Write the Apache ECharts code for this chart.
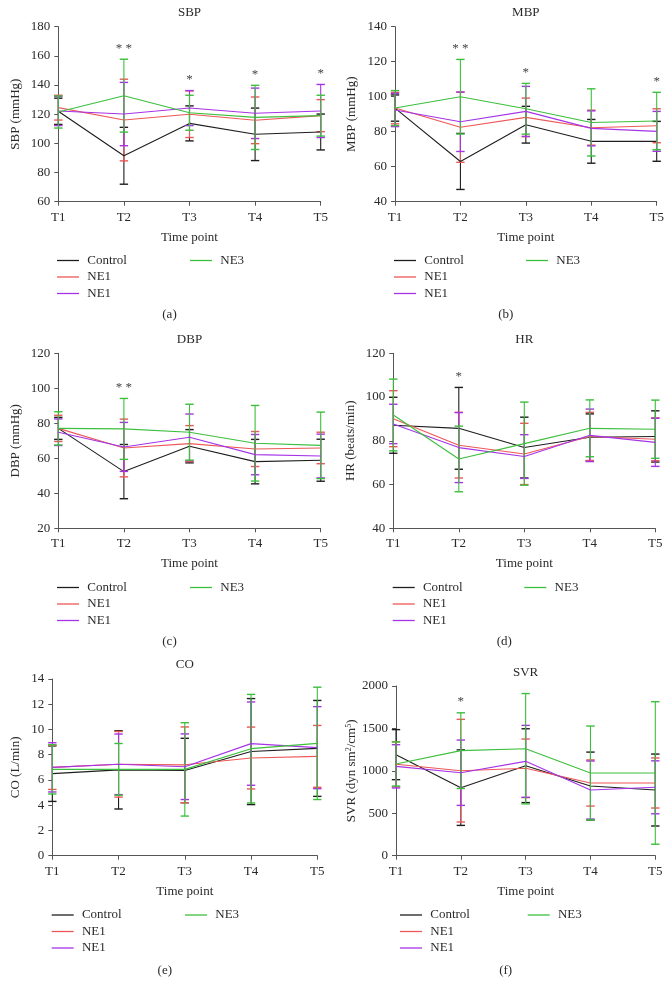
<!DOCTYPE html>
<html><head><meta charset="utf-8">
<script src="https://cdn.jsdelivr.net/npm/echarts@6/dist/echarts.min.js"></script>
<style>html,body{margin:0;padding:0;background:#fff}#c{width:672px;height:996px}</style>
</head><body><div id="c"></div>
<script>
// ---------- data ----------
const timePoints = ['T1', 'T2', 'T3', 'T4', 'T5'];
const groupNames = ['Control', 'NE1', 'NE1b', 'NE3'];
const groupLabels = ['Control', 'NE1', 'NE1', 'NE3'];

// SBP (mmHg)
const sbpControl = [122, 91.5, 113.7, 106.2, 107.8];
const sbpControlSD = [9, 19.5, 12, 18, 12.3];
const sbpNE1 = [124.5, 116, 120, 115.8, 119];
const sbpNE1SD = [8.5, 28, 16, 16, 11];
const sbpNE1b = [122.2, 120.1, 124.2, 120.6, 122.2];
const sbpNE1bSD = [10, 21.7, 12, 17.3, 18.2];
const sbpNE3 = [121.5, 132.7, 121, 117.8, 119];
const sbpNE3SD = [11, 25, 12, 22, 14];
const sbpSig = ['', '**', '*', '*', '*'];

// MBP (mmHg)
const mbpControl = [93.5, 63, 84, 74.5, 74.5];
const mbpControlSD = [7.5, 16, 10.5, 12.5, 11.4];
const mbpNE1 = [93.5, 82.5, 88.2, 82.3, 83.4];
const mbpNE1SD = [9, 20, 11, 10, 9.7];
const mbpNE1b = [92.4, 85.7, 91.6, 81.9, 80.2];
const mbpNE1bSD = [9.5, 17, 14.3, 10, 11.4];
const mbpNE3 = [93.5, 100, 93.1, 85.3, 86.1];
const mbpNE3SD = [10, 21.3, 14.5, 19.2, 16.4];
const mbpSig = ['', '**', '*', '', '*'];

// DBP (mmHg)
const dbpControl = [77.1, 52.4, 66.9, 58.1, 58.9];
const dbpControlSD = [6.3, 15.5, 9.5, 12.7, 12];
const dbpNE1 = [77.1, 65.9, 68.4, 65.3, 65.9];
const dbpNE1SD = [7.5, 16.5, 10.3, 10, 9];
const dbpNE1b = [74.9, 66.5, 72, 62.1, 61.3];
const dbpNE1bSD = [7.6, 14, 13.3, 11.5, 12.5];
const dbpNE3 = [77.1, 76.8, 74.9, 68.6, 67.4];
const dbpNE3SD = [9.5, 17.4, 16, 21.6, 19];
const dbpSig = ['', '**', '', '', ''];

// HR (beats/min)
const hrControl = [87.1, 85.7, 76.9, 81.6, 82];
const hrControlSD = [12.8, 18.7, 13.9, 10.7, 11.7];
const hrNE1 = [90.1, 78, 74, 82, 80.7];
const hrNE1SD = [12.8, 15, 14, 11, 9.8];
const hrNE1b = [87.7, 76.9, 72.8, 82.5, 79.3];
const hrNE1bSD = [9, 16, 10, 12, 11];
const hrNE3 = [91.8, 71.7, 78.7, 85.7, 85.3];
const hrNE3SD = [16.4, 15, 19, 13, 13.3];
const hrSig = ['', '*', '', '', ''];

// CO (L/min)
const coControl = [6.5, 6.8, 6.75, 8.25, 8.5];
const coControlSD = [2.2, 3.1, 2.55, 4.2, 3.8];
const coNE1 = [7.0, 7.24, 7.2, 7.74, 7.87];
const coNE1SD = [1.75, 2.6, 3.0, 2.45, 2.45];
const coNE1b = [7.0, 7.24, 7.05, 8.88, 8.56];
const coNE1bSD = [1.95, 2.4, 2.6, 3.3, 3.25];
const coNE3 = [6.84, 6.84, 6.84, 8.48, 8.9];
const coNE3SD = [1.95, 2.05, 3.7, 4.3, 4.45];
const coSig = ['', '', '', '', ''];

// SVR (dyn s m^2/cm^5)
const svrControl = [1191, 802, 1061, 821, 774];
const svrControlSD = [295, 445, 435, 400, 424];
const svrNE1 = [1077, 1002, 1030, 857, 857];
const svrNE1SD = [265, 605, 345, 272, 295];
const svrNE1b = [1053, 978, 1112, 774, 806];
const svrNE1bSD = [255, 385, 424, 342, 312];
const svrNE3 = [1081, 1238, 1261, 975, 975];
const svrNE3SD = [260, 446, 650, 553, 840];
const svrSig = ['', '*', '', '', ''];

// ---------- layout / style ----------
const FONT = '"Liberation Serif", "DejaVu Serif", serif';
const TXT = '#2a2a2a';
const AXIS = '#555';
const groupColors = ['#1e1e1e', '#ee5757', '#a633e6', '#3cbf3c'];

const panels = [
  { title: 'SBP', yName: 'SBP (mmHg)', min: 60, max: 180, interval: 20,
    grid: { left: 58.3, top: 26.7, width: 262.4, height: 175 }, nameGap: 36.5,
    legendX: [57, 190], legendY: 254, caption: '(a)', titleY: 12.7, captionY: 315,
    means: [sbpControl, sbpNE1, sbpNE1b, sbpNE3], sds: [sbpControlSD, sbpNE1SD, sbpNE1bSD, sbpNE3SD], sig: sbpSig },
  { title: 'MBP', yName: 'MBP (mmHg)', min: 40, max: 140, interval: 20,
    grid: { left: 395, top: 26.7, width: 261.7, height: 175 }, nameGap: 36.5,
    legendX: [394, 526], legendY: 254, caption: '(b)', titleY: 12.7, captionY: 315,
    means: [mbpControl, mbpNE1, mbpNE1b, mbpNE3], sds: [mbpControlSD, mbpNE1SD, mbpNE1bSD, mbpNE3SD], sig: mbpSig },
  { title: 'DBP', yName: 'DBP (mmHg)', min: 20, max: 120, interval: 20,
    grid: { left: 58.3, top: 353.3, width: 262.4, height: 175 }, nameGap: 36.5,
    legendX: [57, 190], legendY: 581, caption: '(c)', titleY: 339.3, captionY: 641.7,
    means: [dbpControl, dbpNE1, dbpNE1b, dbpNE3], sds: [dbpControlSD, dbpNE1SD, dbpNE1bSD, dbpNE3SD], sig: dbpSig },
  { title: 'HR', yName: 'HR (beats/min)', min: 40, max: 120, interval: 20,
    grid: { left: 393.3, top: 353.3, width: 262, height: 175 }, nameGap: 36.5,
    legendX: [392.7, 524.3], legendY: 581, caption: '(d)', titleY: 339.3, captionY: 641.7,
    means: [hrControl, hrNE1, hrNE1b, hrNE3], sds: [hrControlSD, hrNE1SD, hrNE1bSD, hrNE3SD], sig: hrSig },
  { title: 'CO', yName: 'CO (L/min)', min: 0, max: 14, interval: 2,
    grid: { left: 52.3, top: 679, width: 265, height: 176.7 }, nameGap: 30.5,
    legendX: [51.7, 185], legendY: 908.5, caption: '(e)', titleY: 665, captionY: 970.7,
    means: [coControl, coNE1, coNE1b, coNE3], sds: [coControlSD, coNE1SD, coNE1bSD, coNE3SD], sig: coSig },
  { title: 'SVR', yName: 'SVR (dyn sm{sup|2}/cm{sup|5})', min: 0, max: 2000, interval: 500,
    grid: { left: 396, top: 686, width: 259.3, height: 169.7 }, nameGap: 37,
    legendX: [400, 527.7], legendY: 908.5, caption: '(f)', titleY: 672.7, captionY: 970.7,
    means: [svrControl, svrNE1, svrNE1b, svrNE3], sds: [svrControlSD, svrNE1SD, svrNE1bSD, svrNE3SD], sig: svrSig }
];

// ---------- build option ----------
const grids = [], xAxes = [], yAxes = [], series = [], legends = [], graphics = [];

function errorBarRender(color) {
  return function (params, api) {
    const x = api.value(0), m = api.value(1), sd = api.value(2);
    const hi = api.coord([x, m + sd]);
    const lo = api.coord([x, m - sd]);
    const cap = 4.2;
    const st = { stroke: color, lineWidth: 1.1 };
    return { type: 'group', children: [
      { type: 'line', shape: { x1: hi[0], y1: hi[1], x2: lo[0], y2: lo[1] }, style: st },
      { type: 'line', shape: { x1: hi[0] - cap, y1: hi[1], x2: hi[0] + cap, y2: hi[1] }, style: { stroke: color, lineWidth: 1.4 } },
      { type: 'line', shape: { x1: lo[0] - cap, y1: lo[1], x2: lo[0] + cap, y2: lo[1] }, style: { stroke: color, lineWidth: 1.4 } }
    ]};
  };
}

panels.forEach((p, i) => {
  grids.push(Object.assign({ containLabel: false }, p.grid));
  xAxes.push({
    type: 'category', gridIndex: i, data: timePoints, boundaryGap: false,
    name: 'Time point', nameLocation: 'middle', nameGap: 29,
    nameTextStyle: { fontFamily: FONT, fontSize: 13, color: TXT },
    axisLine: { lineStyle: { color: AXIS, width: 1 } },
    axisTick: { show: true, length: 4, lineStyle: { color: AXIS } },
    axisLabel: { fontFamily: FONT, fontSize: 13, color: TXT, margin: 9 },
    splitLine: { show: false }
  });
  yAxes.push({
    type: 'value', gridIndex: i, min: p.min, max: p.max, interval: p.interval,
    name: p.yName, nameLocation: 'middle', nameGap: p.nameGap, nameRotate: 90,
    nameTextStyle: { fontFamily: FONT, fontSize: 13, color: TXT,
      rich: { sup: { fontFamily: FONT, fontSize: 8, color: TXT, verticalAlign: 'top', padding: [0, 0, 6, 0] } } },
    axisLine: { show: true, lineStyle: { color: AXIS, width: 1 } },
    axisTick: { show: true, length: 4, lineStyle: { color: AXIS } },
    axisLabel: { fontFamily: FONT, fontSize: 13, color: TXT, margin: 8, formatter: v => String(v) },
    splitLine: { show: false }
  });

  groupNames.forEach((g, k) => {
    const mean = p.means[k], sd = p.sds[k], color = groupColors[k];
    series.push({
      type: 'custom', name: 'err-' + g, xAxisIndex: i, yAxisIndex: i,
      data: mean.map((m, t) => [t, m, sd[t]]),
      renderItem: errorBarRender(color), z: 2 + k, silent: true
    });
    series.push({
      type: 'line', name: g, xAxisIndex: i, yAxisIndex: i, data: mean,
      symbol: 'none', color: color, itemStyle: { color: color },
      lineStyle: { color: color, width: 1.1 }, z: 3 + k, animation: false
    });
  });

  // significance markers above highest error bar
  const tops = timePoints.map((_, t) => Math.max(...p.means.map((m, k) => m[t] + p.sds[k][t])));
  series.push({
    type: 'custom', name: 'sig', xAxisIndex: i, yAxisIndex: i,
    data: tops.map((v, t) => [t, v]),
    renderItem: function (params, api) {
      const t = api.value(0);
      const label = p.sig[t];
      if (!label) return null;
      const pt = api.coord([t, api.value(1)]);
      return { type: 'text', x: pt[0], y: pt[1] - 11,
        style: { text: label.split('').join(' '), fontFamily: FONT, fontSize: 13, fill: '#444',
          align: 'center', verticalAlign: 'middle' } };
    }, z: 10, silent: true
  });

  const legBase = {
    orient: 'vertical', padding: 0, itemGap: 3.5, itemWidth: 22, itemHeight: 1.3,
    icon: 'path://M0,0H22V1.3H0Z', selectedMode: false,
    textStyle: { fontFamily: FONT, fontSize: 13, color: TXT },
    formatter: name => ' ' + groupLabels[groupNames.indexOf(name)]
  };
  legends.push(Object.assign({}, legBase, { left: p.legendX[0], top: p.legendY, data: ['Control', 'NE1', 'NE1b'] }));
  legends.push(Object.assign({}, legBase, { left: p.legendX[1], top: p.legendY, data: ['NE3'] }));

  const cx = p.grid.left + p.grid.width / 2;
  graphics.push({ type: 'text', x: cx, y: p.titleY,
    style: { text: p.title, fontFamily: FONT, fontSize: 13, fill: TXT, align: 'center', verticalAlign: 'middle' } });
  graphics.push({ type: 'text', x: cx - 20, y: p.captionY,
    style: { text: p.caption, fontFamily: FONT, fontSize: 13, fill: TXT, align: 'center', verticalAlign: 'middle' } });
});

const chart = echarts.init(document.getElementById('c'), null, { renderer: 'canvas' });
chart.setOption({
  animation: false,
  backgroundColor: '#fff',
  grid: grids, xAxis: xAxes, yAxis: yAxes, series: series,
  legend: legends, graphic: graphics
});
</script></body></html>
